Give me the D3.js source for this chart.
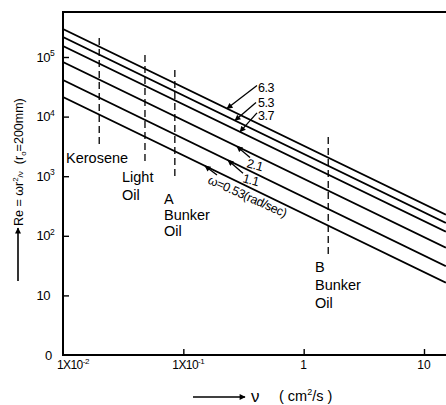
<!DOCTYPE html>
<html><head><meta charset="utf-8">
<script src="https://cdn.jsdelivr.net/npm/d3@7"></script>
<style>
body{margin:0;background:#fff}
text{font-family:"Liberation Sans",Arial,sans-serif;fill:#000}
</style>
</head><body>
<svg id="chart" width="446" height="405"></svg>
<script>
// Angular speed of each line (rad/sec), top line first
const omegas = [6.3, 5.3, 3.7, 2.1, 1.1, 0.53];
// Kinematic viscosity at the two ends of every line (cm²/s)
const nuEnds = [0.01, 15.2];
// Reynolds number of each line at the left and right ends
const reStart = [295000, 217000, 153000, 82500, 41100, 21300];
const reEnd = [225, 165, 117, 63, 31, 16.3];

// Oils: viscosity and the extent of their dashed markers
const oilLabels = [["Kerosene"], ["Light", "Oil"], ["A", "Bunker", "Oil"], ["B", "Bunker", "Oil"]];
const oilNu = [0.020, 0.048, 0.085, 1.6];
const oilReTop = [208000, 108000, 60500, 4550];
const oilReBottom = [3340, 1540, 863, 47.6];

// Axis ticks
const yTicks = [1, 10, 100, 1000, 10000, 100000];
const yTickBase = ["0", "10", "10", "10", "10", "10"];
const yTickExp = ["", "", "2", "3", "4", "5"];
const xTicks = [0.01, 0.1, 1, 10];
const xTickBase = ["1X10", "1X10", "1", "10"];
const xTickExp = ["-2", "-1", "", ""];

const svg = d3.select("#chart");
const mLeft = 63, mBottom = 355, mTop = 12, mRight = 446;

const x = d3.scaleLog().domain([0.01, 10]).range([mLeft, 424]);
const y = d3.scaleLog().domain([1, 1e5]).range([mBottom, 57]);

// arrowhead marker
const defs = svg.append("defs");
defs.append("marker").attr("id", "head")
  .attr("viewBox", "0 0 10 10").attr("refX", 9).attr("refY", 5)
  .attr("markerWidth", 7).attr("markerHeight", 6)
  .attr("markerUnits", "userSpaceOnUse").attr("orient", "auto")
  .append("path").attr("d", "M0,0 L10,5 L0,10 Z").attr("fill", "#000");
defs.append("clipPath").attr("id", "plot")
  .append("rect").attr("x", mLeft).attr("y", mTop).attr("width", mRight - mLeft).attr("height", mBottom - mTop);

// frame
const frame = svg.append("g").attr("stroke", "#000").attr("stroke-width", 2).attr("fill", "none");
frame.append("path").attr("d", `M${mRight},${mTop} H${mLeft} V${mBottom} H${mRight}`);

// y axis ticks (inward)
const yAxis = svg.append("g").attr("transform", `translate(${mLeft},0)`)
  .call(d3.axisLeft(y).tickValues(yTicks.slice(1)).tickSizeInner(-6).tickSizeOuter(0).tickFormat(""));
yAxis.select(".domain").remove();
yAxis.selectAll("line").attr("stroke-width", 1.4);

const yLab = svg.append("g").attr("font-size", 13);
yTicks.forEach((v, i) => {
  const t = yLab.append("text").attr("y", y(v) + 4.5);
  if (i === 0) { t.attr("x", 45).text(yTickBase[i]); return; }
  t.attr("x", 36.5).attr("letter-spacing", -0.5).text(yTickBase[i]);
  if (yTickExp[i]) t.append("tspan").attr("font-size", 8.5).attr("dy", -5.5).text(yTickExp[i]);
});

// x axis ticks (inward)
const xAxis = svg.append("g").attr("transform", `translate(0,${mBottom})`)
  .call(d3.axisBottom(x).tickValues(xTicks.slice(1)).tickSizeInner(-6).tickSizeOuter(0).tickFormat(""));
xAxis.select(".domain").remove();
xAxis.selectAll("line").attr("stroke-width", 1.4);

const xLab = svg.append("g").attr("font-size", 12);
xTicks.forEach((v, i) => {
  const t = xLab.append("text").attr("y", 369);
  if (xTickExp[i]) {
    t.attr("x", x(v) + (i === 0 ? -6 : -11)).attr("letter-spacing", -0.6).text(xTickBase[i]);
    t.append("tspan").attr("font-size", 8).attr("dy", -5).attr("letter-spacing", -0.3).text(xTickExp[i]);
  } else {
    t.attr("x", x(v)).attr("text-anchor", "middle").text(xTickBase[i]);
  }
});

// dashed oil markers
const oils = svg.append("g");
oilNu.forEach((nu, i) => {
  oils.append("line")
    .attr("x1", x(nu)).attr("x2", x(nu))
    .attr("y1", y(oilReTop[i])).attr("y2", y(oilReBottom[i]))
    .attr("stroke", "#000").attr("stroke-width", 1.3).attr("stroke-dasharray", "7,4");
});

// oil names
const oilText = svg.append("g").attr("font-size", 14.5);
const oilPos = [[66, 163, 17], [122, 182, 18], [164, 204, 16], [315, 272, 18]];
oilLabels.forEach((lines, i) => {
  const [lx, ly, lh] = oilPos[i];
  lines.forEach((s, j) => {
    oilText.append("text").attr("x", lx).attr("y", ly + j * lh).text(s);
  });
});

// Reynolds lines
const line = d3.line().x(d => x(d[0])).y(d => y(d[1]));
const lineG = svg.append("g").attr("clip-path", "url(#plot)");
const pts = omegas.map((w, i) => [[nuEnds[0], reStart[i]], [nuEnds[1], reEnd[i]]]);
pts.forEach(p => {
  lineG.append("path").attr("d", line(p)).attr("fill", "none")
    .attr("stroke", "#000").attr("stroke-width", 1.8);
});

// pixel y of line i at pixel x
function lineY(i, px) {
  const p = pts[i];
  const x0 = x(p[0][0]), y0 = y(p[0][1]), x1 = x(p[1][0]), y1 = y(p[1][1]);
  return y0 + (y1 - y0) * (px - x0) / (x1 - x0);
}

// omega call-outs
const callouts = [
  {i: 0, tx: 227, dx: 30, dy: -23, lx: 258, ly: 92, rot: 0},
  {i: 1, tx: 235, dx: 21, dy: -18, lx: 258, ly: 107, rot: 0},
  {i: 2, tx: 240, dx: 17, dy: -19, lx: 258, ly: 120, rot: 0},
  {i: 3, tx: 237, dx: 13, dy: 11, lx: 246, ly: 167, rot: 15},
  {i: 4, tx: 228, dx: 15, dy: 13, lx: 242, ly: 182, rot: 15},
  {i: 5, tx: 205, dx: 12, dy: 9, lx: 207, ly: 183, rot: 24}
];
const call = svg.append("g");
callouts.forEach(c => {
  const ty = lineY(c.i, c.tx);
  call.append("line")
    .attr("x1", c.tx + c.dx).attr("y1", ty + c.dy)
    .attr("x2", c.tx).attr("y2", ty)
    .attr("stroke", "#000").attr("stroke-width", 1.3).attr("marker-end", "url(#head)");
  const label = c.i === 5 ? `ω=${omegas[c.i]}(rad/sec)` : String(omegas[c.i]);
  call.append("text")
    .attr("transform", `translate(${c.lx},${c.ly}) rotate(${c.rot})`)
    .attr("font-size", 12.5).attr("letter-spacing", -0.4)
    .text(label);
});

// y title
svg.append("line").attr("x1", 18).attr("y1", 281).attr("x2", 18).attr("y2", 228)
  .attr("stroke", "#000").attr("stroke-width", 1.6).attr("marker-end", "url(#head)");
const yt = svg.append("text").attr("transform", "translate(23,226) rotate(-90)").attr("font-size", 12.5);
yt.append("tspan").text("Re = ωr");
yt.append("tspan").attr("font-size", 8).attr("dy", -5).text("2");
yt.append("tspan").attr("font-size", 8).attr("dy", 5).text("/ν");
yt.append("tspan").attr("dx", 7).text("(r");
yt.append("tspan").attr("font-size", 8).attr("dy", 3).text("o");
yt.append("tspan").attr("dy", -3).text("=200mm)");

// x title
svg.append("line").attr("x1", 193).attr("y1", 397).attr("x2", 245).attr("y2", 397)
  .attr("stroke", "#000").attr("stroke-width", 1.6).attr("marker-end", "url(#head)");
svg.append("text").attr("x", 251).attr("y", 402).attr("font-size", 17).text("ν");
const xt = svg.append("text").attr("x", 279).attr("y", 401).attr("font-size", 14.5);
xt.append("tspan").text("( cm");
xt.append("tspan").attr("font-size", 9).attr("dy", -6).text("2");
xt.append("tspan").attr("dy", 6).text("/s )");
</script>
</body></html>
